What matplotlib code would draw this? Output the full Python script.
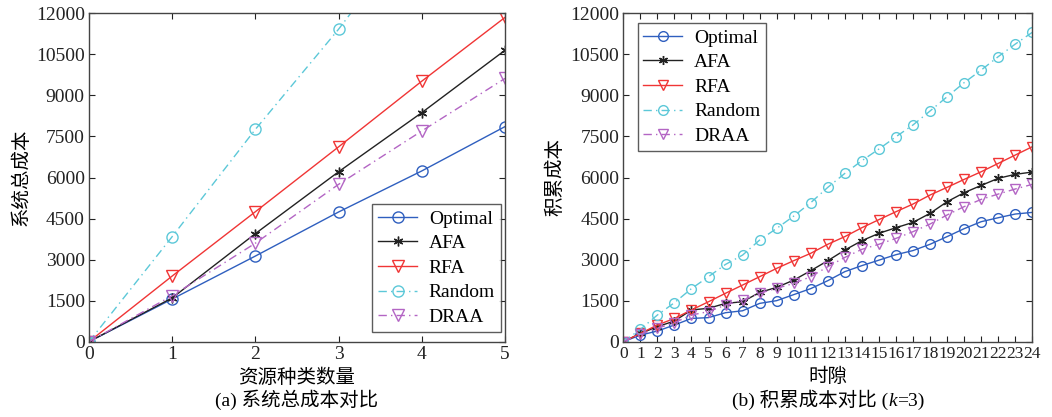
import matplotlib
matplotlib.use("Agg")
import matplotlib.pyplot as plt
from matplotlib.offsetbox import TextArea, HPacker, AnnotationBbox

# ---------------- data ----------------
# (a) total system cost vs number of resource types
n_types = [0, 1, 2, 3, 4, 5]
a_optimal = [0, 1560, 3130, 4740, 6240, 7860]
a_afa = [0, 1600, 3950, 6210, 8370, 10650]
a_rfa = [0, 2400, 4750, 7120, 9520, 11850]
a_random = [0, 3840, 7760, 11420, 15400, 19300]
a_draa = [0, 1680, 3600, 5750, 7700, 9620]

# (b) cumulative cost vs time slot (k=3)
slots = list(range(25))
b_optimal = [0, 240, 390, 610, 850, 880, 1060, 1130, 1400, 1500, 1720, 1940, 2230,
             2560, 2780, 2980, 3180, 3330, 3560, 3840, 4130, 4385, 4530, 4665, 4725]
b_afa = [0, 300, 550, 755, 1160, 1220, 1400, 1460, 1800, 1985, 2250, 2595, 2960,
         3350, 3690, 3960, 4165, 4360, 4690, 5115, 5445, 5710, 5970, 6115, 6200]
b_rfa = [0, 300, 610, 850, 1160, 1460, 1770, 2070, 2375, 2680, 2960, 3230, 3560,
         3840, 4165, 4460, 4750, 5030, 5360, 5640, 5930, 6210, 6515, 6820, 7125]
b_random = [0, 450, 975, 1425, 1940, 2375, 2825, 3165, 3715, 4140, 4590, 5080, 5640,
            6150, 6615, 7040, 7490, 7920, 8430, 8950, 9465, 9925, 10415, 10875, 11305]
b_draa = [0, 270, 490, 695, 975, 1100, 1340, 1520, 1770, 1950, 2130, 2375, 2740,
          3080, 3375, 3560, 3775, 4020, 4300, 4630, 4935, 5200, 5395, 5580, 5750]

labels = ["Optimal", "AFA", "RFA", "Random", "DRAA"]
yticks = [0, 1500, 3000, 4500, 6000, 7500, 9000, 10500, 12000]

# ---------------- style ----------------
FAM = ["Liberation Serif", "Noto Sans CJK SC"]
plt.rcParams["font.family"] = FAM
plt.rcParams["axes.unicode_minus"] = False

styles = [
    dict(color="#2f5fbf", marker="o", ls="-"),
    dict(color="#222222", marker=(6, 2, 0), ls="-"),
    dict(color="#f03535", marker="v", ls="-"),
    dict(color="#5cc8d8", marker="o", ls=(0, (6, 3, 1, 3))),
    dict(color="#b365c4", marker="v", ls=(0, (6, 3, 1, 3))),
]

fig = plt.figure(figsize=(10.52, 4.17), dpi=100)
W, H = 1052, 417

def make_ax(x0, x1, y0, y1):
    return fig.add_axes([x0 / W, 1 - y1 / H, (x1 - x0) / W, (y1 - y0) / H])

ax1 = make_ax(89, 505, 13.3, 341.7)
ax2 = make_ax(623.3, 1032.3, 13.3, 341.7)

def style_ax(ax, xlabel_fs):
    for sp in ax.spines.values():
        sp.set_color("#444444")
        sp.set_linewidth(1.0)
    ax.tick_params(direction="in", length=4, width=0.8, top=True, right=True,
                   labelsize=14, colors="#222222", pad=3)
    ax.tick_params(axis="x", labelsize=xlabel_fs)
    ax.set_ylim(0, 12000)
    ax.set_yticks(yticks)

def make_legend(ax, **kw):
    leg = ax.legend(fontsize=14, frameon=True, fancybox=False, edgecolor="#333333",
                    borderpad=0.3, labelspacing=0.36, handlelength=2.0,
                    handletextpad=0.6, borderaxespad=0.0, **kw)
    leg.get_frame().set_linewidth(1.0)
    return leg

series_a = [a_optimal, a_afa, a_rfa, a_random, a_draa]
for lab, ys, st in zip(labels, series_a, styles):
    ms = 8 if st["marker"] != (6, 2, 0) else 7
    ax1.plot(n_types, ys, label=lab, color=st["color"], ls=st["ls"], lw=1.0,
             marker=st["marker"], ms=ms, mfc="none", mec=st["color"], mew=1.0)
style_ax(ax1, 14)
ax1.set_xlim(0, 5)
ax1.set_xticks(n_types)
ax1.set_xlabel("资源种类数量", fontsize=14, labelpad=4)
ax1.set_ylabel("系统总成本", fontsize=14, labelpad=4)
make_legend(ax1, loc="lower right", bbox_to_anchor=(0.99, 0.03))

series_b = [b_optimal, b_afa, b_rfa, b_random, b_draa]
for lab, ys, st in zip(labels, series_b, styles):
    ms = 7 if st["marker"] != (6, 2, 0) else 6.5
    ax2.plot(slots, ys, label=lab, color=st["color"], ls=st["ls"], lw=1.0,
             marker=st["marker"], ms=ms, mfc="none", mec=st["color"], mew=1.0)
style_ax(ax2, 12.5)
ax2.set_xlim(0, 24)
ax2.set_xticks(slots)
ax2.set_xlabel("时隙", fontsize=14, labelpad=4)
ax2.set_ylabel("积累成本", fontsize=14, labelpad=4)
make_legend(ax2, loc="upper left", bbox_to_anchor=(0.035, 0.97))

# captions
fig.text(297 / W, 1 - 400 / H, "(a) 系统总成本对比", ha="center", va="center",
         fontsize=14, family=FAM)
parts = [TextArea("(b) 积累成本对比 (", textprops=dict(fontsize=14, family=FAM)),
         TextArea("k", textprops=dict(fontsize=14, family=FAM, style="italic")),
         TextArea("=3)", textprops=dict(fontsize=14, family=FAM))]
box = HPacker(children=parts, align="baseline", pad=0, sep=0)
ab = AnnotationBbox(box, (828 / W, 1 - 400 / H), xycoords="figure fraction",
                    frameon=False, box_alignment=(0.5, 0.5), pad=0)
fig.add_artist(ab)

fig.savefig("out.png", dpi=100)
